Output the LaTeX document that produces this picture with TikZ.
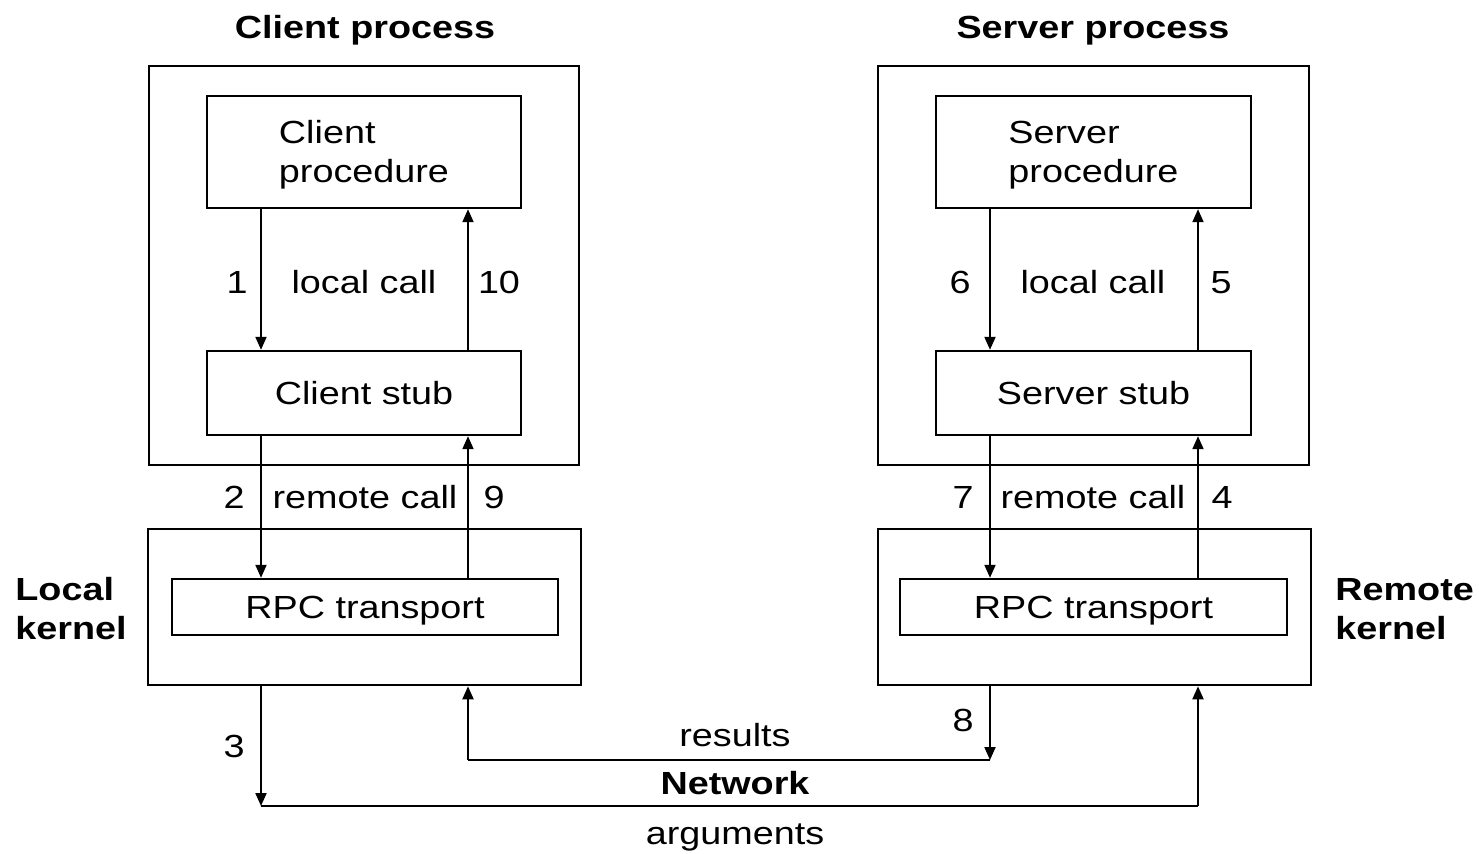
\documentclass[tikz,border=0pt]{standalone}
\usepackage{fontspec}
\setmainfont{Liberation Sans}[FakeStretch=1.18]
\usetikzlibrary{arrows.meta}
\begin{document}
\begin{tikzpicture}[x=0.5pt,y=-0.5pt,
  font=\fontsize{16pt}{19.5pt}\selectfont,
  frame/.style={draw, line width=1.3pt, inner sep=0pt},
  box/.style={draw, line width=1.2pt, inner sep=0pt, align=center,
    text height=11.5pt, text depth=0pt},
  arr/.style={line width=1pt, -{Triangle[length=6.5pt,width=5.5pt]}},
  wire/.style={line width=1pt},
  lbl/.style={inner sep=0pt, text height=11.5pt, text depth=0pt},
  head/.style={inner sep=0pt, text height=11.5pt, text depth=0pt,
    font=\fontsize{16pt}{19.5pt}\selectfont\bfseries}]
\useasboundingbox (0,0) rectangle (1479,853);

% client side
\node[frame, minimum width=215pt, minimum height=199.5pt] (cproc) at (364,265.5) {};
\node[box, minimum width=157pt, minimum height=56pt] (cpr) at (364,152) {};
\node[inner sep=0pt, align=left] (cprtxt) at (364,155) {Client\\procedure};
\node[box, minimum width=157pt, minimum height=42pt] (cstub) at (364,393) {Client stub};
\node[frame, minimum width=216.5pt, minimum height=78pt] (lkern) at (364.5,607) {};
\node[box, minimum width=193pt, minimum height=28pt] (lrpc) at (365,607) {RPC transport};

% server side
\node[frame, minimum width=215.5pt, minimum height=199.5pt] (sproc) at (1093.5,265.5) {};
\node[box, minimum width=157.5pt, minimum height=56pt] (spr) at (1093.5,152) {};
\node[inner sep=0pt, align=left] (sprtxt) at (1093.5,155) {Server\\procedure};
\node[box, minimum width=157.5pt, minimum height=42pt] (sstub) at (1093.5,393) {Server stub};
\node[frame, minimum width=216.5pt, minimum height=78pt] (rkern) at (1094.5,607) {};
\node[box, minimum width=193.5pt, minimum height=28pt] (rrpc) at (1093.5,607) {RPC transport};

% headings and side labels
\node[head] (chead) at (365,27) {Client process};
\node[head] (shead) at (1093,27) {Server process};
\node[inner sep=0pt, font=\fontsize{16pt}{19.5pt}\selectfont\bfseries, align=left, anchor=west] (lklbl) at (15,609) {Local\\kernel};
\node[inner sep=0pt, font=\fontsize{16pt}{19.5pt}\selectfont\bfseries, align=left, anchor=west] (rklbl) at (1335,609) {Remote\\kernel};

% columns of the call arrows
\coordinate (cl) at (261,0);
\coordinate (cr) at (468,0);
\coordinate (sl) at (990,0);
\coordinate (sr) at (1198,0);
\coordinate (argL) at (261,806);
\coordinate (argR) at (1198,806);
\coordinate (resL) at (468,760);
\coordinate (resR) at (990,760);

% client arrows
\draw[arr] (cpr.south -| cl) -- (cstub.north -| cl);
\draw[arr] (cstub.north -| cr) -- (cpr.south -| cr);
\draw[arr] (cstub.south -| cl) -- (lrpc.north -| cl);
\draw[arr] (lrpc.north -| cr) -- (cstub.south -| cr);

% server arrows
\draw[arr] (spr.south -| sl) -- (sstub.north -| sl);
\draw[arr] (sstub.north -| sr) -- (spr.south -| sr);
\draw[arr] (sstub.south -| sl) -- (rrpc.north -| sl);
\draw[arr] (rrpc.north -| sr) -- (sstub.south -| sr);

% network: arguments and results
\draw[arr] (lkern.south -| cl) -- (argL);
\draw[wire] (argL) -- (argR);
\draw[arr] (argR) -- (rkern.south -| sr);
\draw[arr] (rkern.south -| sl) -- (resR);
\draw[wire] (resR) -- (resL);
\draw[arr] (resL) -- (lkern.south -| cr);

% step numbers and labels
\node[lbl] (n1) at (237,282) {1};
\node[lbl] (lc1) at (364,282) {local call};
\node[lbl] (n10) at (499,282) {10};
\node[lbl] (n6) at (960,282) {6};
\node[lbl] (lc2) at (1093,282) {local call};
\node[lbl] (n5) at (1221,282) {5};
\node[lbl] (n2) at (234,497) {2};
\node[lbl] (rc1) at (365,497) {remote call};
\node[lbl] (n9) at (494,497) {9};
\node[lbl] (n7) at (963,497) {7};
\node[lbl] (rc2) at (1093,497) {remote call};
\node[lbl] (n4) at (1222,497) {4};
\node[lbl] (n3) at (234,746) {3};
\node[lbl] (n8) at (963,720) {8};
\node[lbl] (res) at (735,735) {results};
\node[head] (net) at (735,783) {Network};
\node[lbl] (args) at (735,833) {arguments};
\end{tikzpicture}
\end{document}
